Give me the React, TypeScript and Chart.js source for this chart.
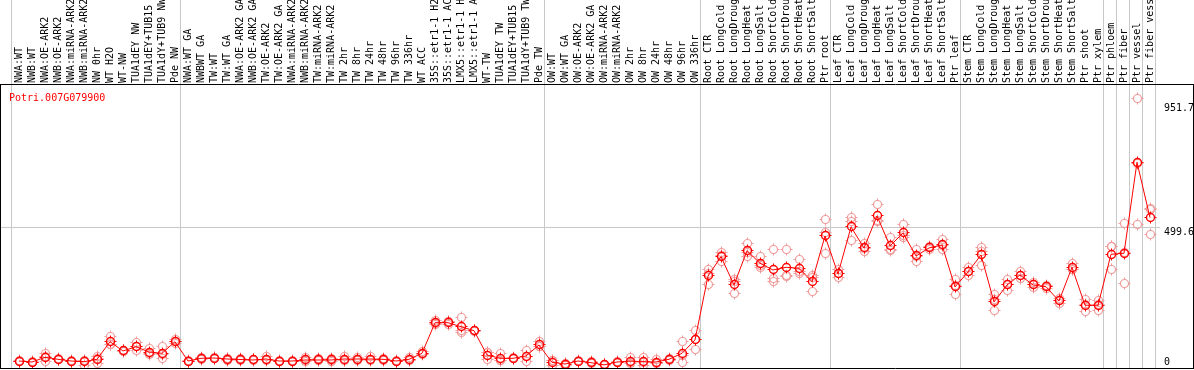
import { useEffect, useRef } from "react";
import { Chart, registerables } from "chart.js";

Chart.register(...registerables);

const categories = [
  "NWA:WT", "NWB:WT", "NWA:OE-ARK2", "NWB:OE-ARK2", "NWA:miRNA-ARK2", "NWB:miRNA-ARK2",
  "NW 0hr", "WT H2O", "WT-NW", "TUA1dEY NW", "TUA1dEY+TUB15 NW", "TUA1dY+TUB9 NW", "Pde NW",
  "NWA:WT GA", "NWBWT GA", "TW:WT", "TW:WT GA", "NWA:OE-ARK2 GA", "NWB:OE-ARK2 GA",
  "TW:OE-ARK2", "TW:OE-ARK2 GA", "NWA:miRNA-ARK2 GA", "NWB:miRNA-ARK2 GA", "TW:miRNA-ARK2",
  "TW:miRNA-ARK2 GA", "TW 2hr", "TW 8hr", "TW 24hr", "TW 48hr", "TW 96hr", "TW 336hr",
  "WT ACC", "35S::etr1-1 H2O", "35S::etr1-1 ACC", "LMX5::etr1-1 H2O", "LMX5::etr1-1 ACC",
  "WT-TW", "TUA1dEY TW", "TUA1dEY+TUB15 TW", "TUA1dY+TUB9 TW", "Pde TW",
  "OW:WT", "OW:WT GA", "OW:OE-ARK2", "OW:OE-ARK2 GA", "OW:miRNA-ARK2", "OW:miRNA-ARK2 GA",
  "OW 2hr", "OW 8hr", "OW 24hr", "OW 48hr", "OW 96hr", "OW 336hr",
  "Root CTR", "Root LongCold", "Root LongDrought", "Root LongHeat", "Root LongSalt",
  "Root ShortCold", "Root ShortDrought", "Root ShortHeat", "Root ShortSalt", "Ptr root",
  "Leaf CTR", "Leaf LongCold", "Leaf LongDrought", "Leaf LongHeat", "Leaf LongSalt",
  "Leaf ShortCold", "Leaf ShortDrought", "Leaf ShortHeat", "Leaf ShortSalt", "Ptr leaf",
  "Stem CTR", "Stem LongCold", "Stem LongDrought", "Stem LongHeat", "Stem LongSalt",
  "Stem ShortCold", "Stem ShortDrought", "Stem ShortHeat", "Stem ShortSalt", "Ptr shoot",
  "Ptr xylem", "Ptr phloem", "Ptr fiber", "Ptr vessel", "Ptr fiber vessel",
];

const meanValues = [
  14.5, 10.9, 28, 20.7, 14.5, 12, 20.7, 84.7, 50.9, 66.5,
  47.2, 42.5, 84.7, 14.5, 24.3, 25.4, 21.8, 20, 18.2, 21.8,
  14.5, 14.5, 18.2, 18.2, 18.2, 21.8, 21.8, 21.8, 20.7, 14.5,
  20.7, 42.5, 153.7, 153.7, 139.2, 124.6, 36.3, 24.3, 24.3, 32.7,
  72.7, 9.8, 3.6, 14.5, 8.4, 0.5, 10.9, 14.5, 12, 10.9,
  20.7, 42.5, 90.9, 323.4, 393.6, 290.7, 415.4, 369.6, 345.2, 355,
  351.4, 302.7, 468.8, 330.7, 501.5, 425.2, 541.5, 432.4, 479.7, 396.1,
  425.2, 436.1, 283.5, 338, 399.7, 229, 290.7, 327, 290.7, 284.5,
  232.6, 355, 217, 217, 402.3, 406, 736.6, 535.3,
];

const rep1 = [
  13, 10, 42.5, 19, 13, 0, 7, 102.8, 49, 80,
  60.7, 66, 90.9, 13, 20, 22, 18, 17, 15, 30,
  12, 11, 26, 15, 14, 31, 18, 30, 17, 12,
  16, 48.3, 163.5, 145.4, 173.3, 127, 18.2, 42.5, 22, 54.5,
  84.7, 0, 0, 12, 6, 0, 9, 29, 28, 20.7,
  18, 84.7, 123.6, 345.2, 407, 308.9, 442.3, 393.6, 418, 420.5,
  381.6, 323.4, 526.9, 345.2, 534.2, 440, 581.4, 461.5, 508.8, 418,
  432, 454.3, 308.9, 352.5, 425.2, 254.4, 308.9, 338, 300, 290,
  240, 369.6, 236.2, 233.7, 429.9, 515, 969.2, 569.5,
];

const rep2 = [
  16, 12, 12, 22, 16, 18, 30, 76, 53, 50.9,
  42.5, 38, 78, 16, 29, 28, 25, 23, 21, 16,
  17, 18, 13, 22, 23, 17, 28, 16, 24, 17,
  28, 40, 150, 158, 117.4, 122, 45, 15.6, 27, 12,
  67, 14.7, 5, 17, 11, 1, 13, 7, 0, 6,
  24, 9.8, 57, 293.3, 375.4, 260.6, 393.6, 359.8, 315, 320.9,
  333.2, 266.4, 480.8, 316.2, 519.7, 425, 519.7, 418, 461.5, 374.3,
  418, 418, 254.4, 323.4, 410.6, 236.2, 272, 316, 281, 279,
  225, 348, 193.7, 197.3, 347.8, 294.4, 508.8, 563.3,
];

const rep3 = [
  14.5, 10.7, 29.5, 21, 14.5, 18, 25, 75.3, 50.7, 68.6,
  38.4, 23.5, 85.2, 14.5, 24, 26, 22.4, 20, 18.6, 19.4,
  14.5, 14.5, 15.6, 17.6, 17.6, 17.4, 19.4, 19.4, 21.1, 14.5,
  18.1, 39.2, 147.6, 157.7, 126.9, 124.8, 45.7, 14.8, 23.9, 31.6,
  66.4, 14.7, 5.8, 14.5, 8.2, 0.5, 10.7, 7.5, 8, 6,
  20.1, 33, 92.1, 331.7, 398.4, 302.6, 410.3, 355.4, 302.7, 323.6,
  339.4, 318.3, 403.4, 330.7, 450.6, 410.6, 523.4, 417.7, 468.8, 396,
  425.6, 436, 287.2, 338.1, 363.3, 196.4, 291.2, 327, 291.1, 284.5,
  232.8, 347.4, 221.1, 220, 429.2, 408.6, 731.8, 472.4,
];

const yTickValues = [951.7, 499.6, 0];
const yTickLabels = ["951.7", "499.6", "0"];
const gridValues = [499.6];
const groupBoundaries = [0, 13, 41, 53, 63, 73, 84, 85, 86, 87, 88];
const geneName = "Potri.007G079900";

const FONT = "10px 'DejaVu Sans Mono', monospace";
const W = 1194;
const H = 370;
const PX_PER_CAT = 13;
const FIRST_X = 19;

function makeMarker(color: string, lw: number) {
  const c = document.createElement("canvas");
  c.width = 15;
  c.height = 15;
  const ctx = c.getContext("2d")!;
  ctx.strokeStyle = color;
  ctx.lineWidth = lw;
  ctx.beginPath();
  ctx.arc(7.5, 7.5, 4, 0, Math.PI * 2);
  ctx.stroke();
  ctx.fillStyle = color;
  ctx.fillRect(7, 1.5, 1, 2);
  ctx.fillRect(7, 11.5, 1, 2);
  ctx.fillRect(1.5, 7, 2, 1);
  ctx.fillRect(11.5, 7, 2, 1);
  return c;
}

export default function App() {
  const ref = useRef<HTMLCanvasElement | null>(null);

  useEffect(() => {
    document.body.style.margin = "0";
    const canvas = ref.current;
    if (!canvas) return;

    const xMin = -FIRST_X / PX_PER_CAT;
    const xMax = xMin + W / PX_PER_CAT;
    const yPxPerUnit = (365 - 227.5) / 499.6;
    const yMin = -(369 - 365) / yPxPerUnit;
    const yMax = (365 - 85) / yPxPerUnit;

    const meanMarker = makeMarker("#ff0000", 1.4);
    const repMarker = makeMarker("#f09a9a", 1.2);

    const repPoints: { x: number; y: number }[] = [];
    [rep1, rep2, rep3].forEach((rep) =>
      rep.forEach((v, i) => repPoints.push({ x: i, y: v }))
    );

    const decor = {
      id: "decor",
      beforeDatasetsDraw(chart: any) {
        const { ctx, chartArea, scales } = chart;
        const xs = scales.x;
        const ys = scales.y;
        ctx.save();
        ctx.fillStyle = "#c8c8c8";
        groupBoundaries.forEach((b) => {
          const px = xs.getPixelForValue(b - 0.5);
          ctx.fillRect(Math.round(px - 1.5), 0, 1, chartArea.bottom);
        });
        gridValues.forEach((v) => {
          const py = ys.getPixelForValue(v);
          ctx.fillRect(chartArea.left, Math.round(py - 0.5), 1160 - chartArea.left, 1);
        });
        ctx.restore();
        ctx.imageSmoothingEnabled = false;
      },
      afterDraw(chart: any) {
        const { ctx, chartArea, scales } = chart;
        const ys = scales.y;
        ctx.save();
        ctx.strokeStyle = "#000";
        ctx.lineWidth = 1;
        ctx.beginPath();
        ctx.moveTo(0, chartArea.top - 0.5);
        ctx.lineTo(W, chartArea.top - 0.5);
        ctx.moveTo(0, chartArea.bottom - 0.5);
        ctx.lineTo(W, chartArea.bottom - 0.5);
        ctx.moveTo(0.5, chartArea.top);
        ctx.lineTo(0.5, chartArea.bottom);
        ctx.moveTo(W - 0.5, chartArea.top);
        ctx.lineTo(W - 0.5, chartArea.bottom);
        ctx.stroke();

        ctx.font = FONT;
        ctx.fillStyle = "#000";
        ctx.textAlign = "left";
        yTickValues.forEach((v, i) => {
          const py = ys.getPixelForValue(v);
          if (v === 0) {
            ctx.textBaseline = "bottom";
            ctx.fillText(yTickLabels[i], 1164, py + 2);
          } else {
            ctx.textBaseline = "top";
            ctx.fillText(yTickLabels[i], 1164, py);
          }
        });

        ctx.fillStyle = "#ff0000";
        ctx.textBaseline = "alphabetic";
        ctx.fillText(geneName, 9, 100.5);
        ctx.restore();
      },
    };

    const chart = new Chart(canvas, {
      type: "line",
      data: {
        datasets: [
          {
            label: "mean",
            data: meanValues.map((v, i) => ({ x: i, y: v })),
            borderColor: "#ff0000",
            borderWidth: 1,
            pointStyle: meanMarker as any,
            pointRadius: 5,
            showLine: true,
            tension: 0,
          },
          {
            label: "replicates",
            data: repPoints,
            showLine: false,
            pointStyle: repMarker as any,
            pointRadius: 5,
            borderColor: "#f09a9a",
          },
        ],
      },
      options: {
        responsive: false,
        animation: false,
        devicePixelRatio: 1,
        layout: { autoPadding: false, padding: { left: 0, right: 0, top: 0, bottom: 1 } },
        plugins: {
          legend: { display: false },
          tooltip: { enabled: false },
          title: { display: false },
        },
        scales: {
          x: {
            type: "linear",
            position: "top",
            min: xMin,
            max: xMax,
            afterBuildTicks: (scale: any) => {
              scale.ticks = categories.map((_, i) => ({ value: i }));
            },
            afterFit: (scale: any) => {
              scale.height = 85;
              scale.paddingLeft = 0;
              scale.paddingRight = 0;
            },
            grid: { display: false, drawTicks: false },
            border: { display: false },
            ticks: {
              autoSkip: false,
              minRotation: 90,
              maxRotation: 90,
              padding: 2,
              labelOffset: 12,
              color: "#000",
              font: { family: "'DejaVu Sans Mono', monospace", size: 10 },
              callback: (v: any) => categories[v as number] ?? "",
            },
          },
          y: {
            type: "linear",
            display: false,
            min: yMin,
            max: yMax,
          },
        },
      },
      plugins: [decor],
    });

    return () => chart.destroy();
  }, []);

  return (
    <div style={{ width: W, height: H, background: "#fff" }}>
      <canvas ref={ref} width={W} height={H} style={{ display: "block" }} />
    </div>
  );
}
